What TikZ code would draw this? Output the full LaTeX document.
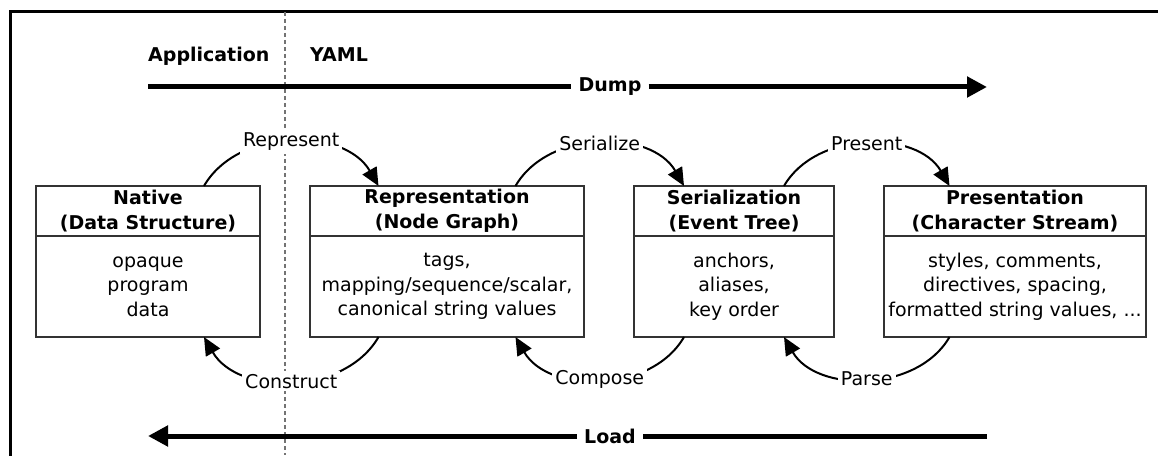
\documentclass[tikz,border=0pt]{standalone}
\usepackage{fontspec}
\setmainfont{DejaVu Sans}
\usetikzlibrary{arrows.meta,positioning,calc}

\begin{document}
\begin{tikzpicture}
  [x=1pt, y=1pt,
   every node/.style = {font=\fontsize{19}{24.5}\selectfont},
   head/.style = {draw=black!80, line width=1.3pt, outer sep=0pt, inner sep=0pt,
     minimum height=50pt, align=center, font=\fontsize{19}{24.5}\selectfont\bfseries},
   body/.style = {draw=black!80, line width=1.3pt, outer sep=0pt, inner sep=0pt,
     minimum height=101pt, align=center},
   flow/.style = {line width=2pt, -{Triangle[length=18pt, width=16pt]}},
   lbl/.style = {fill=white, inner sep=3pt},
   big/.style = {line width=5pt, -{Triangle[length=20pt, width=20pt]}},
   biglbl/.style = {inner xsep=7pt, inner ysep=0pt, font=\fontsize{19}{24.5}\selectfont\bfseries},
   side/.style = {anchor=base west, inner sep=0pt, font=\fontsize{19}{24.5}\selectfont\bfseries}]
  \useasboundingbox (0,0) rectangle (1158,455);

  % frame and the application / yaml border
  \draw[line width=3pt] (10.5,-5) -- (10.5,443.5) -- (1170,443.5);
  \draw[black!55, line width=1.3pt, dash pattern=on 4pt off 3pt] (285,443) -- (285,0);
  \node[side] (app) at (148,393) {Application};
  \node[side] (yaml) at (310,393) {YAML};

  % the four stages
  \foreach \n/\x/\w/\t/\b in {
      nat/148/224/{Native\\(Data Structure)}/{opaque\\program\\data},
      rep/447/274/{Representation\\(Node Graph)}/{tags,\\mapping/sequence/scalar,\\canonical string values},
      ser/734/200/{Serialization\\(Event Tree)}/{anchors,\\aliases,\\key order},
      pre/1015/262/{Presentation\\(Character Stream)}/{styles, comments,\\directives, spacing,\\formatted string values, ...}} {
    \node[head, minimum width=\w pt] (\n) at (\x,244) {\t};
    \node[body, minimum width=\w pt, below=0pt of \n] (\n-b) {\b};
  }

  % dump direction
  \draw[flow] ($(nat.north west)!.75!(nat.north east)$) to[out=60, in=120]
    node[lbl] (represent) {Represent} ($(rep.north west)!.25!(rep.north east)$);
  \draw[flow] ($(rep.north west)!.75!(rep.north east)$) to[out=60, in=120]
    node[lbl] (serialize) {Serialize} ($(ser.north west)!.25!(ser.north east)$);
  \draw[flow] ($(ser.north west)!.75!(ser.north east)$) to[out=60, in=120]
    node[lbl] (present) {Present} ($(pre.north west)!.25!(pre.north east)$);

  % load direction
  \draw[flow] ($(pre-b.south west)!.25!(pre-b.south east)$) to[out=-120, in=-60]
    node[lbl] (parse) {Parse} ($(ser-b.south west)!.75!(ser-b.south east)$);
  \draw[flow] ($(ser-b.south west)!.25!(ser-b.south east)$) to[out=-120, in=-60]
    node[lbl] (compose) {Compose} ($(rep-b.south west)!.75!(rep-b.south east)$);
  \draw[flow] ($(rep-b.south west)!.25!(rep-b.south east)$) to[out=-120, in=-60]
    node[lbl] (construct) {Construct} ($(nat-b.south west)!.75!(nat-b.south east)$);

  % the two long arrows
  \node[biglbl] (dump) at (610,368) {Dump};
  \node[biglbl] (load) at (610,19) {Load};
  \coordinate (dump-a) at (148,368);
  \coordinate (dump-z) at (987,368);
  \coordinate (load-a) at (987,19);
  \coordinate (load-z) at (148,19);
  \draw[big] (dump-a) -- (dump) -- (dump-z);
  \draw[big] (load-a) -- (load) -- (load-z);
\end{tikzpicture}
\end{document}
